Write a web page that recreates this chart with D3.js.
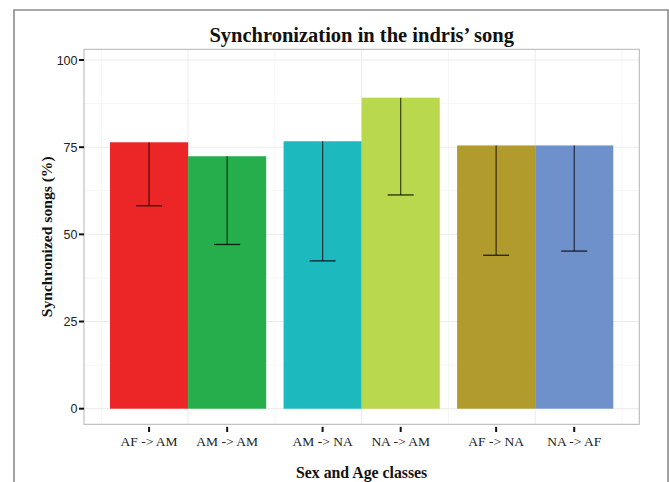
<!DOCTYPE html>
<html>
<head>
<meta charset="utf-8">
<script src="https://cdn.jsdelivr.net/npm/d3@7"></script>
<style>
  body { margin: 0; background: #fff; }
  svg { display: block; }
</style>
</head>
<body>
<div id="chart"></div>
<script>
// data
const groups = [1, 2, 3]
const labels = ['AF -> AM', 'AM -> AM', 'AM -> NA', 'NA -> AM', 'AF -> NA', 'NA -> AF']
const groupOf = [0, 0, 1, 1, 2, 2]
const sideOf = [0, 1, 0, 1, 0, 1]
const means = [76.4, 72.4, 76.7, 89.2, 75.5, 75.5]
const lowers = [58.2, 47.1, 42.4, 61.3, 44.0, 45.2]
const colors = ['#ec2527', '#25ae4b', '#1cb9be', '#b9d84d', '#b29b2d', '#6e91cc']
const yTicks = [0, 25, 50, 75, 100]
const yMinor = [12.5, 37.5, 62.5, 87.5]
const xMinor = [0.5, 1.5, 2.5, 3.5]

const bars = labels.map((l, i) => ({
  label: l, pos: groups[groupOf[i]], side: sideOf[i],
  mean: means[i], lower: lowers[i], color: colors[i]
}))

const width = 669, height = 482
const panel = { left: 84, right: 639.3, top: 49.3, bottom: 424.3 }

const svg = d3.select('#chart').append('svg')
  .attr('width', width)
  .attr('height', height)

// outer frame
svg.append('path')
  .attr('d', `M14,${height} V10 H668 V${height}`)
  .attr('fill', 'none')
  .attr('stroke', '#8a8a8a')
  .attr('stroke-width', 1.6)

const x = d3.scaleLinear().domain([0.4, 3.6]).range([panel.left, panel.right])
const y = d3.scaleLinear().domain([0, 100]).range([408.7, 60])
const dodge = 0.45

// grid
const grid = svg.append('g')
grid.selectAll('.ymin').data(yMinor).join('line')
  .attr('x1', panel.left).attr('x2', panel.right)
  .attr('y1', d => y(d)).attr('y2', d => y(d))
  .attr('stroke', '#f6f6f6').attr('stroke-width', 1)
grid.selectAll('.xmin').data(xMinor).join('line')
  .attr('y1', panel.top).attr('y2', panel.bottom)
  .attr('x1', d => x(d)).attr('x2', d => x(d))
  .attr('stroke', '#f6f6f6').attr('stroke-width', 1)
grid.selectAll('.ymaj').data(yTicks).join('line')
  .attr('x1', panel.left).attr('x2', panel.right)
  .attr('y1', d => y(d)).attr('y2', d => y(d))
  .attr('stroke', '#ebebeb').attr('stroke-width', 1)
grid.selectAll('.xmaj').data(groups).join('line')
  .attr('y1', panel.top).attr('y2', panel.bottom)
  .attr('x1', d => x(d)).attr('x2', d => x(d))
  .attr('stroke', '#ebebeb').attr('stroke-width', 1)

// bars
const barX = d => x(d.pos - dodge + d.side * dodge)
svg.append('g').selectAll('rect').data(bars).join('rect')
  .attr('x', barX)
  .attr('width', d => x(d.pos + dodge) - x(d.pos))
  .attr('y', d => y(d.mean))
  .attr('height', d => y(0) - y(d.mean))
  .attr('fill', d => d.color)

// error bars (lower half only)
const centre = d => barX(d) + (x(d.pos + dodge) - x(d.pos)) / 2
const capW = (x(1 + dodge) - x(1)) / 3
const err = svg.append('g').selectAll('g').data(bars).join('g')
err.append('line')
  .attr('x1', centre).attr('x2', centre)
  .attr('y1', d => y(d.mean)).attr('y2', d => y(d.lower))
  .attr('stroke', '#000').attr('stroke-opacity', 0.7).attr('stroke-width', 1.2)
err.append('line')
  .attr('x1', d => centre(d) - capW / 2).attr('x2', d => centre(d) + capW / 2)
  .attr('y1', d => y(d.lower)).attr('y2', d => y(d.lower))
  .attr('stroke', '#000').attr('stroke-opacity', 0.8).attr('stroke-width', 1.3)

// panel border
svg.append('rect')
  .attr('x', panel.left).attr('y', panel.top)
  .attr('width', panel.right - panel.left)
  .attr('height', panel.bottom - panel.top)
  .attr('fill', 'none')
  .attr('stroke', '#b3b3b3')
  .attr('stroke-width', 1)

// y axis
const yAxis = svg.append('g')
yAxis.selectAll('line').data(yTicks).join('line')
  .attr('x1', 79).attr('x2', panel.left)
  .attr('y1', d => y(d)).attr('y2', d => y(d))
  .attr('stroke', '#111').attr('stroke-width', 2)
yAxis.selectAll('text').data(yTicks).join('text')
  .attr('x', 77.5).attr('y', d => y(d))
  .attr('dy', '0.36em')
  .attr('text-anchor', 'end')
  .attr('font-family', 'Liberation Sans, Arial, sans-serif')
  .attr('font-size', 12.5)
  .attr('fill', '#222')
  .text(d => d)

// x axis
const xAxis = svg.append('g')
xAxis.selectAll('line').data(bars).join('line')
  .attr('x1', centre).attr('x2', centre)
  .attr('y1', 426.8).attr('y2', 432)
  .attr('stroke', '#111').attr('stroke-width', 2)
xAxis.selectAll('text').data(bars).join('text')
  .attr('x', centre).attr('y', 446)
  .attr('text-anchor', 'middle')
  .attr('font-family', 'Liberation Serif, Times New Roman, serif')
  .attr('font-size', 13.5)
  .attr('fill', '#222')
  .text(d => d.label)

// titles
const midX = (panel.left + panel.right) / 2
svg.append('text')
  .attr('x', midX).attr('y', 42)
  .attr('text-anchor', 'middle')
  .attr('font-family', 'Liberation Serif, Times New Roman, serif')
  .attr('font-weight', 'bold')
  .attr('font-size', 20.5)
  .attr('fill', '#111')
  .text('Synchronization in the indris\u2019 song')

svg.append('text')
  .attr('x', midX).attr('y', 478)
  .attr('text-anchor', 'middle')
  .attr('font-family', 'Liberation Serif, Times New Roman, serif')
  .attr('font-weight', 'bold')
  .attr('font-size', 15.8)
  .attr('fill', '#111')
  .text('Sex and Age classes')

svg.append('text')
  .attr('transform', `translate(52, ${(panel.top + panel.bottom) / 2}) rotate(-90)`)
  .attr('text-anchor', 'middle')
  .attr('font-family', 'Liberation Serif, Times New Roman, serif')
  .attr('font-weight', 'bold')
  .attr('font-size', 15.6)
  .attr('fill', '#111')
  .text('Synchronized songs (%)')
</script>
</body>
</html>
